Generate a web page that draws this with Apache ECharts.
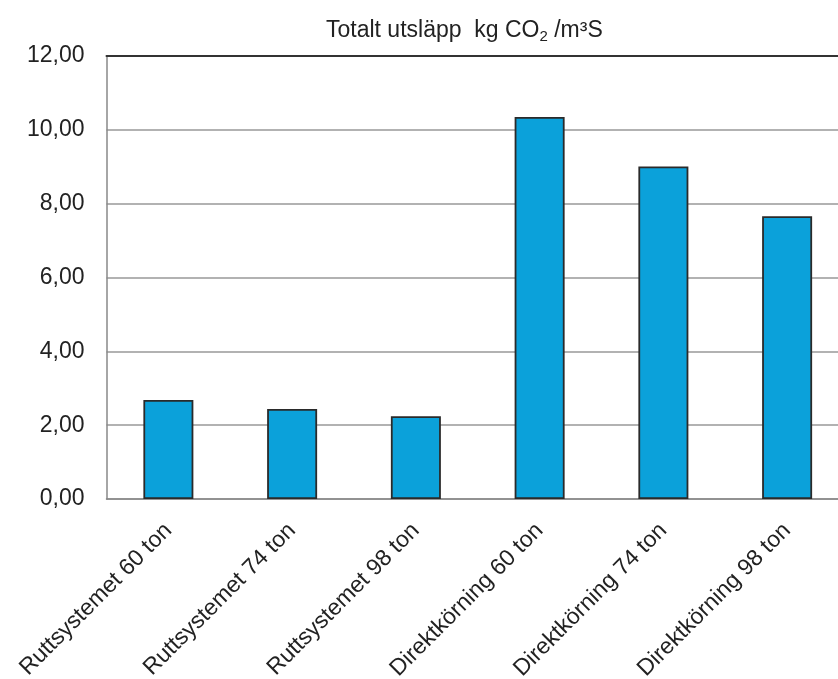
<!DOCTYPE html>
<html>
<head>
<meta charset="utf-8">
<script src="https://cdn.jsdelivr.net/npm/echarts@6/dist/echarts.min.js"></script>
<style>
html,body{margin:0;padding:0;background:#fff;overflow:hidden;width:838px;height:679px;}
#chart{width:870px;height:679px;}
</style>
</head>
<body>
<div id="chart"></div>
<script>
const categories = ['Ruttsystemet 60 ton','Ruttsystemet 74 ton','Ruttsystemet 98 ton','Direktkörning 60 ton','Direktkörning 74 ton','Direktkörning 98 ton'];
const values = [2.68, 2.44, 2.24, 10.35, 9.01, 7.66];
const yMin = 0, yMax = 12, yInterval = 2;
const titleText = 'Totalt utsläpp  kg CO{sub|2} /m³S';

const chart = echarts.init(document.getElementById('chart'));
const font = 'Liberation Sans, Arial, sans-serif';
chart.setOption({
  animation: false,
  backgroundColor: '#fff',
  title: {
    text: titleText,
    left: 321, top: 12,
    textStyle: {
      fontFamily: font, fontSize: 23, fontWeight: 'normal', color: '#222',
      rich: { sub: { fontFamily: font, fontSize: 15, color: '#222', padding: [12,0,0,0] } }
    }
  },
  grid: { left: 106.5, top: 56, width: 742.5, height: 443, containLabel: false, outerBoundsMode: 'none' },
  xAxis: [{
    type: 'category', data: categories,
    axisLine: { show: true, lineStyle: { color: '#888', width: 1.5 } },
    axisTick: { show: false },
    axisLabel: { rotate: 45, margin: 28, fontFamily: font, fontSize: 23, color: '#222', interval: 0 }
  }, {
    type: 'category', data: categories, position: 'top',
    axisLine: { show: true, lineStyle: { color: '#333', width: 2 } },
    axisTick: { show: false }, axisLabel: { show: false }
  }],
  yAxis: {
    type: 'value', min: yMin, max: yMax, interval: yInterval,
    axisLine: { show: true, lineStyle: { color: '#888', width: 1.5 } },
    axisTick: { show: false },
    splitLine: { show: true, lineStyle: { color: '#999', width: 1.5 } },
    axisLabel: { margin: 22, fontFamily: font, fontSize: 23, color: '#222',
      formatter: v => v.toFixed(2).replace('.', ',') }
  },
  series: [{
    type: 'bar', data: values, barWidth: 50,
    itemStyle: { color: '#0BA1DA', borderColor: '#2a2a2a', borderWidth: 1.8 }
  }]
});
</script>
</body>
</html>
